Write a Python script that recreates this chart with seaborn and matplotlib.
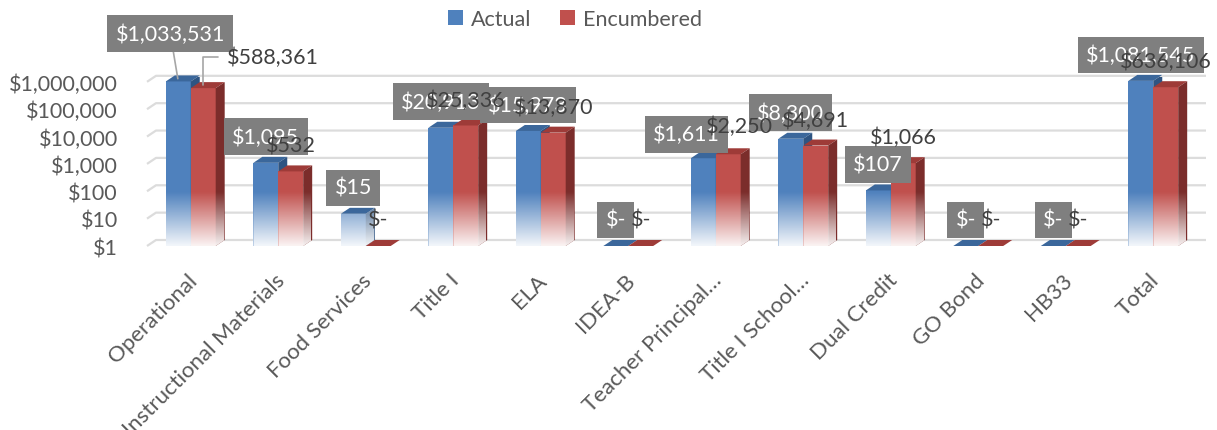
import numpy as np
import pandas as pd
import matplotlib
matplotlib.use("Agg")
import matplotlib.pyplot as plt
import matplotlib.transforms as mtransforms
from matplotlib.patches import Polygon, Patch
from matplotlib.ticker import NullLocator
import seaborn as sns

# data
categories = ['Operational', 'Instructional Materials', 'Food Services', 'Title I', 'ELA', 'IDEA-B',
              'Teacher Principal\u2026', 'Title I School\u2026', 'Dual Credit', 'GO Bond', 'HB33', 'Total']
actual = [1033531, 1095, 15, 20913, 15973, 0, 1611, 8300, 107, 0, 0, 1081545]
encumbered = [588361, 532, 0, 25336, 13870, 0, 2250, 4691, 1066, 0, 0, 636106]
series = ['Actual', 'Encumbered']
y_ticks = [1, 10, 100, 1000, 10000, 100000, 1000000]

# style
BLUE, RED = '#4f81bd', '#c0504d'
TOPS = ['#3b679b', '#9e3b38']
SIDES = ['#2e5482', '#7b2d2b']
TEXT = '#595959'
GRID = '#dcdcdc'
DX, DY = 9, 6          # 3d depth in pixels
FADE = 0.32            # height of the white fade, axes fraction
FS = 15

# label offsets in pixels (right, up) from bar top
actual_off = {0: (-8, 48), 6: (-17, 24)}
enc_off = {0: (70, 31), 6: (11, 28)}
default_off = (0, 26)

sns.set_theme(style='white')
plt.rcParams['font.family'] = ['Lato', 'DejaVu Sans']

df = pd.DataFrame({
    'category': categories * 2,
    'value': actual + encumbered,
    'series': [series[0]] * len(categories) + [series[1]] * len(categories),
})

W, H = 1217, 431
fig = plt.figure(figsize=(W / 100, H / 100), dpi=100)
ax = fig.add_axes([147 / W, (H - 247) / H, (1197 - 147) / W, (247 - 78) / H])

sns.barplot(data=df, x='category', y='value', hue='series', palette=[BLUE, RED],
            width=0.57, saturation=1, legend=False, ax=ax, errorbar=None, linewidth=0)
ax.set_yscale('log')
ax.set_ylim(1, 1.5e6)
ax.set_xlim(-0.5, len(categories) - 0.5)
ax.set_autoscale_on(False)

for s in ax.spines.values():
    s.set_visible(False)
ax.grid(False)

ax.set_yticks(y_ticks)
ax.set_yticklabels([f"${t:,}" for t in y_ticks])
ax.yaxis.set_minor_locator(NullLocator())
ax.set_xticks(range(len(categories)))
ax.set_xticklabels(categories, rotation=45, ha='right', rotation_mode='anchor')
ax.tick_params(axis='y', length=0, pad=21, labelsize=FS + 0.5, labelcolor=TEXT)
ax.tick_params(axis='x', length=0, pad=17, labelsize=FS + 1, labelcolor=TEXT)
ax.set_xlabel('')
ax.set_ylabel('')
shift_lbl = mtransforms.ScaledTranslation(-4 / 100, 0, fig.dpi_scale_trans)
for lbl in ax.get_xticklabels():
    lbl.set_transform(lbl.get_transform() + shift_lbl)

to_disp = ax.transData.transform
to_data = ax.transData.inverted().transform
d = np.array([DX, DY])
ybot = ax.get_ylim()[0]
x_lo, x_hi = ax.get_xlim()

# gridlines on the back wall
for t in y_ticks:
    left = to_disp((x_lo, t))
    right = to_disp((x_hi, t))
    pts = to_data(np.array([left, left + d, right + d]))
    ax.plot(pts[:, 0], pts[:, 1], color=GRID, lw=1.6, zorder=0.5, clip_on=False,
            solid_capstyle='butt')

# 3d faces + fade
grad = np.ones((80, 1, 4))
grad[..., 3] = np.linspace(0.93, 0.0, 80)[:, None]
blend = mtransforms.blended_transform_factory(ax.transData, ax.transAxes)

values = [actual, encumbered]
for k, cont in enumerate(ax.containers):
    z = 2 + 2 * k
    for bar, v in zip(cont, values[k]):
        bar.set_zorder(z)
        x0 = bar.get_x()
        x1 = x0 + bar.get_width()
        top = max(v, ybot)
        p00, p10 = to_disp((x0, ybot)), to_disp((x1, ybot))
        p01, p11 = to_disp((x0, top)), to_disp((x1, top))
        topface = to_data(np.array([p01, p11, p11 + d, p01 + d]))
        ax.add_patch(Polygon(topface, closed=True, fc=TOPS[k], ec='none', zorder=z + 0.2,
                             clip_on=False))
        if v > ybot:
            side = to_data(np.array([p10, p11, p11 + d, p10 + d]))
            ax.add_patch(Polygon(side, closed=True, fc=SIDES[k], ec='none', zorder=z + 0.2))
            hexa = to_data(np.array([p00, p10, p10 + d, p11 + d, p11, p01]))
            clip = Polygon(hexa, closed=True, transform=ax.transData)
            im = ax.imshow(grad, extent=(hexa[:, 0].min(), hexa[:, 0].max(), 0, FADE),
                           origin='lower', aspect='auto', transform=blend,
                           interpolation='bilinear', zorder=z + 0.5)
            im.set_clip_path(clip)

ax.set_ylim(1, 1.5e6)
ax.set_xlim(x_lo, x_hi)

# data labels
for k, cont in enumerate(ax.containers):
    offs = actual_off if k == 0 else enc_off
    for i, (bar, v) in enumerate(zip(cont, values[k])):
        xc = bar.get_x() + bar.get_width() / 2
        top = max(v, ybot)
        txt = f"${v:,.0f}" if v else "$-"
        off = offs.get(i, default_off)
        kw = dict(xy=(xc, top), xytext=off, textcoords='offset pixels', ha='center',
                  va='center', fontsize=FS + 0.5, zorder=10, annotation_clip=False)
        if k == 0:
            kw.update(color='white',
                      bbox=dict(boxstyle='square,pad=0.38', fc='#7f7f7f', ec='none'))
            if i == 0:
                kw['arrowprops'] = dict(arrowstyle='-', color='#a6a6a6', lw=1.2,
                                        shrinkA=0, shrinkB=2)
        else:
            kw.update(color='#404040')
            if i == 0:
                kw['arrowprops'] = dict(arrowstyle='-', color='#a6a6a6', lw=1.2,
                                        connectionstyle='angle,angleA=0,angleB=90,rad=0',
                                        relpos=(0, 0.5), shrinkA=4, shrinkB=2)
        ax.annotate(txt, **kw)

handles = [Patch(fc=BLUE, ec='none'), Patch(fc=RED, ec='none')]
fig.legend(handles, series, loc='center', bbox_to_anchor=(575 / W, 1 - 20 / H), ncol=2,
           frameon=False, fontsize=FS + 0.5, handlelength=0.7, handleheight=0.7,
           columnspacing=1.3, handletextpad=0.4, labelcolor=TEXT)

fig.savefig('out.png', dpi=100)
